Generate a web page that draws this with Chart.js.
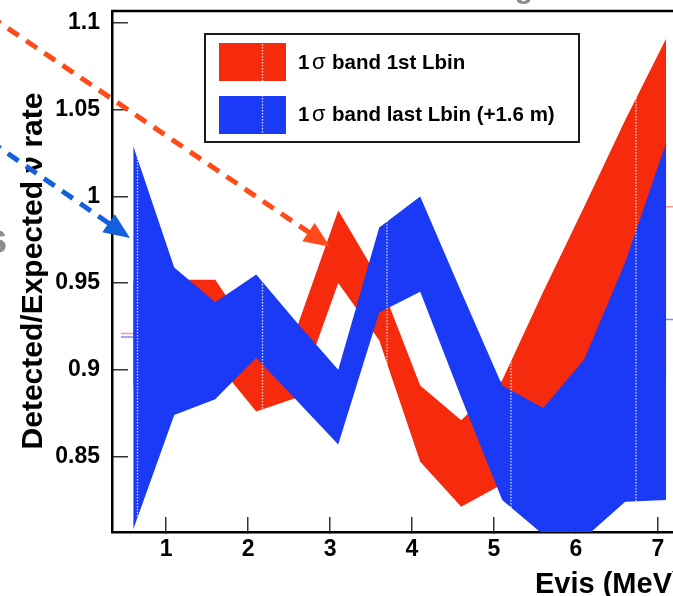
<!DOCTYPE html>
<html>
<head>
<meta charset="utf-8">
<script src="https://cdn.jsdelivr.net/npm/chart.js@4.4.0/dist/chart.umd.min.js"></script>
<style>
  html, body { margin: 0; padding: 0; background: #fff; }
  #wrap { width: 673px; height: 596px; }
</style>
</head>
<body>
<div id="wrap"><canvas id="c" width="673" height="596"></canvas></div>
<script>
// energy bin centres (MeV)
const evis = [0.6, 1.1, 1.6, 2.1, 2.6, 3.1, 3.6, 4.1, 4.6, 5.1, 5.6, 6.1, 6.6, 7.1];

// 1 sigma band, first L bin
const redHigh = [0.951, 0.952, 0.952, 0.917, 0.925, 0.992, 0.952, 0.891, 0.871, 0.894, 0.945, 0.994, 1.044, 1.091];
const redLow  = [0.891, 0.905, 0.905, 0.876, 0.884, 0.950, 0.917, 0.847, 0.821, 0.834, 0.855, 0.875, 0.890, 0.897];

// 1 sigma band, last L bin (+1.6 m)
const blueHigh = [1.029, 0.959, 0.939, 0.955, 0.927, 0.900, 0.982, 1.000, 0.945, 0.891, 0.878, 0.906, 0.962, 1.031];
const blueLow  = [0.808, 0.874, 0.883, 0.907, 0.882, 0.857, 0.933, 0.945, 0.884, 0.825, 0.805, 0.803, 0.824, 0.825];

// central values of the first / last bin (the little stubs peeking out at the edges)
const redEdge  = [0.921, 0.994];
const blueEdge = [0.919, 0.929];

const xTicks = [1, 2, 3, 4, 5, 6, 7];
const yTicks = [0.85, 0.9, 0.95, 1, 1.05, 1.1];
const yTickLabels = ['0.85', '0.9', '0.95', '1', '1.05', '1.1'];

const legendLabels = ['band 1st Lbin', 'band last Lbin (+1.6 m)'];

const RED = '#f62a0c';
const BLUE = '#1a3af5';
const FONT = 'Liberation Sans, Arial, Helvetica, sans-serif';

function pts(vals) {
    return evis.map((x, i) => ({ x: x, y: vals[i] }));
}

function stub(vals) {
    const first = evis[0], last = evis[evis.length - 1];
    return [
        { x: first - 0.15, y: vals[0] }, { x: first + 0.15, y: vals[0] },
        { x: first + 0.2, y: null },
        { x: last - 0.15, y: vals[1] }, { x: last + 0.15, y: vals[1] }
    ];
}

const bandStyle = { borderColor: 'transparent', borderWidth: 0, pointRadius: 0, tension: 0 };

function drawArrow(ctx, from, to, color) {
    const ang = Math.atan2(to[1] - from[1], to[0] - from[0]);
    const L = 26, W = 11;
    const bx = to[0] - L * Math.cos(ang), by = to[1] - L * Math.sin(ang);
    ctx.save();
    ctx.strokeStyle = color;
    ctx.fillStyle = color;
    ctx.lineWidth = 5;
    ctx.setLineDash([13, 9]);
    ctx.beginPath();
    ctx.moveTo(from[0], from[1]);
    ctx.lineTo(bx + 4 * Math.cos(ang), by + 4 * Math.sin(ang));
    ctx.stroke();
    ctx.setLineDash([]);
    ctx.beginPath();
    ctx.moveTo(to[0], to[1]);
    ctx.lineTo(bx - W * Math.sin(ang), by + W * Math.cos(ang));
    ctx.lineTo(bx + W * Math.sin(ang), by - W * Math.cos(ang));
    ctx.closePath();
    ctx.fill();
    ctx.restore();
}

const decor = {
    id: 'decor',
    afterDatasetsDraw(chart) {
        const { ctx, chartArea: a } = chart;
        // legend swatches
        ctx.save();
        ctx.fillStyle = RED;
        ctx.fillRect(219, 43, 67, 38);
        ctx.fillStyle = BLUE;
        ctx.fillRect(219, 96, 67, 38);
        ctx.restore();

        // the dotted white streaks the original fill rendering left behind
        ctx.save();
        ctx.beginPath();
        ctx.rect(a.left, a.top, a.right - a.left, a.bottom - a.top - 2);
        ctx.clip();
        ctx.globalCompositeOperation = 'source-atop';
        ctx.strokeStyle = 'rgba(255,255,255,0.8)';
        ctx.lineWidth = 1.3;
        ctx.setLineDash([1.5, 1.5]);
        [137.5, 262.5, 387, 511, 636].forEach(x => {
            ctx.beginPath();
            ctx.moveTo(x, a.top);
            ctx.lineTo(x, a.bottom);
            ctx.stroke();
        });
        ctx.restore();
    },
    afterDraw(chart) {
        const { ctx, chartArea: a, scales } = chart;
        ctx.save();

        // top of the frame
        ctx.strokeStyle = '#000';
        ctx.lineWidth = 2.5;
        ctx.beginPath();
        ctx.moveTo(a.left - 1, a.top);
        ctx.lineTo(a.right, a.top);
        ctx.stroke();

        // legend box + text
        ctx.lineWidth = 2;
        ctx.strokeStyle = '#1a1a1a';
        ctx.strokeRect(205, 34, 374, 108);
        ctx.fillStyle = '#000';
        ctx.textBaseline = 'middle';
        [63, 115].forEach((y, i) => {
            ctx.font = 'bold 20.5px ' + FONT;
            ctx.fillText('1', 298, y);
            ctx.font = '22px ' + FONT;
            ctx.fillText('σ', 312, y);
            ctx.font = 'bold 20.5px ' + FONT;
            ctx.fillText(legendLabels[i], 332, y);
        });

        // axis titles
        ctx.textBaseline = 'alphabetic';
        ctx.font = 'bold 29px ' + FONT;
        ctx.fillText('Evis (MeV)', 535, 593);
        ctx.save();
        ctx.translate(42, 271);
        ctx.rotate(-Math.PI / 2);
        ctx.textAlign = 'center';
        ctx.font = 'bold 30px ' + FONT;
        ctx.fillText('Detected/Expected ν rate', 0, 0);
        ctx.restore();

        // clipped grey bits of neighbouring text
        ctx.fillStyle = '#8c8c8c';
        ctx.font = 'bold 30px ' + FONT;
        ctx.textAlign = 'center';
        ctx.fillText('g', 524, -2);
        ctx.textAlign = 'left';
        ctx.font = 'bold 42px ' + FONT;
        ctx.fillText('s', -16, 253);

        // dashed arrows, given in axis units
        const X = scales.x, Y = scales.y;
        const p = (v) => [X.getPixelForValue(v[0]), Y.getPixelForValue(v[1])];
        drawArrow(ctx, p([-1.15, 1.104]), p([3.0, 0.971]), '#ff4b19');
        drawArrow(ctx, p([-1.15, 1.032]), p([0.56, 0.976]), '#145fdc');

        ctx.restore();
    }
};

new Chart(document.getElementById('c'), {
    type: 'line',
    data: {
        datasets: [
            Object.assign({ label: 'blue high', data: pts(blueHigh), backgroundColor: BLUE, fill: '+1' }, bandStyle),
            Object.assign({ label: 'blue low', data: pts(blueLow), fill: false }, bandStyle),
            Object.assign({ label: 'red high', data: pts(redHigh), backgroundColor: RED, fill: '+1' }, bandStyle),
            Object.assign({ label: 'red low', data: pts(redLow), fill: false }, bandStyle),
            { label: 'blue centre', data: stub(blueEdge), borderColor: '#7f8cf7', borderWidth: 1.5, pointRadius: 0, fill: false, spanGaps: false },
            { label: 'red centre', data: stub(redEdge), borderColor: '#f79a8c', borderWidth: 1.5, pointRadius: 0, fill: false, spanGaps: false }
        ]
    },
    options: {
        responsive: false,
        animation: false,
        devicePixelRatio: 1,
        layout: { padding: { top: 11, left: 0, right: 0, bottom: 0 } },
        plugins: { legend: { display: false }, tooltip: { enabled: false } },
        scales: {
            x: {
                type: 'linear',
                min: 0.341,
                max: 7.183,
                afterBuildTicks: (s) => { s.ticks = xTicks.map(v => ({ value: v })); },
                afterFit: (s) => { s.height = 64; s.paddingLeft = 0; s.paddingRight = 0; },
                grid: { drawOnChartArea: false, drawTicks: true, tickLength: -15, color: '#333', lineWidth: 1.5 },
                border: { display: true, color: '#000', width: 2.5 },
                ticks: {
                    padding: 19,
                    color: '#000',
                    font: { family: FONT, size: 23, weight: 'bold' },
                    callback: (v) => String(v)
                }
            },
            y: {
                type: 'linear',
                min: 0.8065,
                max: 1.1069,
                afterBuildTicks: (s) => { s.ticks = yTicks.map(v => ({ value: v })); },
                afterFit: (s) => { s.width = 112; s.paddingTop = 0; s.paddingBottom = 0; },
                grid: { drawOnChartArea: false, drawTicks: true, tickLength: -16, color: '#333', lineWidth: 1.5 },
                border: { display: true, color: '#000', width: 2.5 },
                ticks: {
                    padding: 28,
                    color: '#000',
                    font: { family: FONT, size: 23, weight: 'bold' },
                    callback: (v) => yTickLabels[yTicks.indexOf(v)] ?? ''
                }
            }
        }
    },
    plugins: [decor]
});
</script>
</body>
</html>
